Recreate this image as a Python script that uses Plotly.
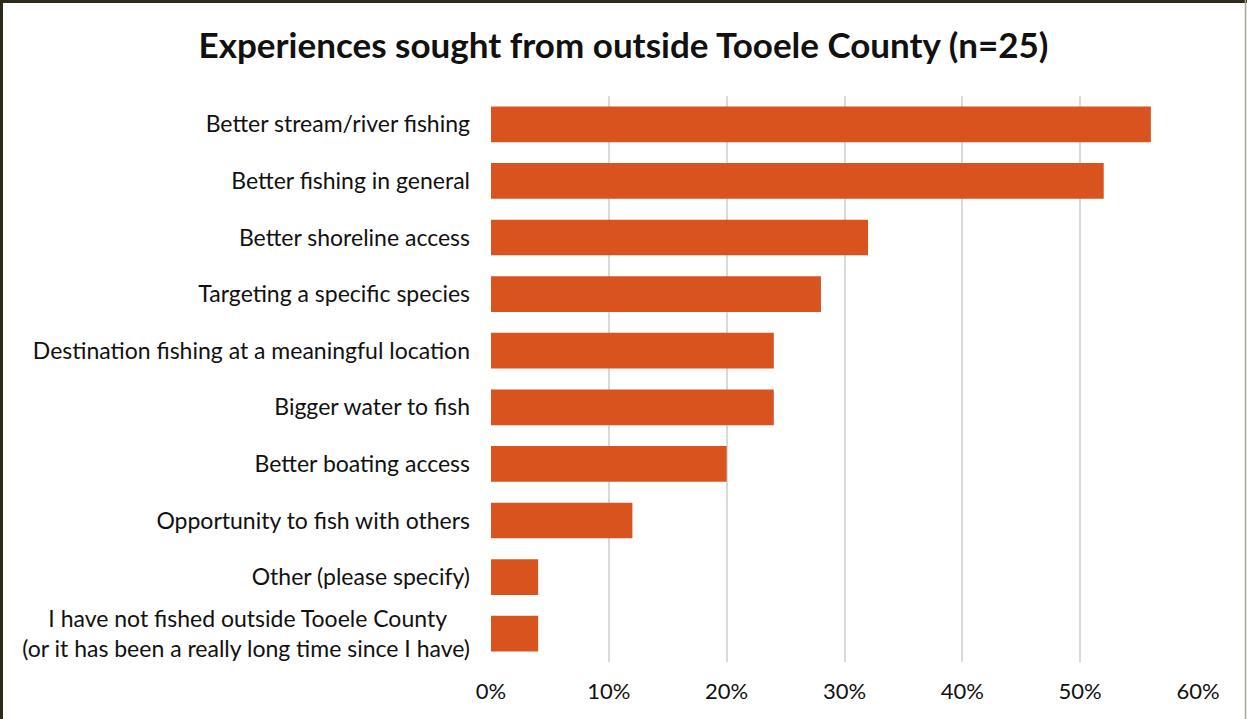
import plotly.graph_objects as go

categories = [
    "Better stream/river fishing",
    "Better fishing in general",
    "Better shoreline access",
    "Targeting a specific species",
    "Destination fishing at a meaningful location",
    "Bigger water to fish",
    "Better boating access",
    "Opportunity to fish with others",
    "Other (please specify)",
    "I have not fished outside Tooele County&nbsp;&nbsp;&nbsp;&nbsp;<br>(or it has been a really long time since I have)",
]
values = [0.56, 0.52, 0.32, 0.28, 0.24, 0.24, 0.20, 0.12, 0.04, 0.04]
x_ticks = [0, 0.1, 0.2, 0.3, 0.4, 0.5, 0.6]
x_tick_labels = ["0%", "10%", "20%", "30%", "40%", "50%", "60%"]
title_text = "Experiences sought from outside Tooele County (n=25)"

W, H = 1247, 719
L, R, T, B = 491, 49, 96, 57
FONT = "Lato"

fig = go.Figure(go.Bar(
    x=values,
    y=categories,
    orientation="h",
    marker=dict(color="#D9531E", line=dict(width=0)),
    hoverinfo="x+y",
))

pw = W - L - R
ph = H - T - B
def px2x(px):
    return (px - L) / pw
def py2y(py):
    return 1 - (py - T) / ph

shapes = [
    dict(type="line", xref="paper", yref="paper", x0=px2x(1.5), x1=px2x(1.5), y0=py2y(0), y1=py2y(H),
         line=dict(color="#2E2A1A", width=3)),
    dict(type="line", xref="paper", yref="paper", x0=px2x(0), x1=px2x(W), y0=py2y(1.5), y1=py2y(1.5),
         line=dict(color="#2E2A1A", width=3)),
    dict(type="line", xref="paper", yref="paper", x0=px2x(1245.5), x1=px2x(1245.5), y0=py2y(0), y1=py2y(H),
         line=dict(color="#A8A596", width=1.5)),
]

fig.update_layout(
    width=W, height=H,
    margin=dict(l=L, r=R, t=T, b=B, pad=0),
    paper_bgcolor="white",
    plot_bgcolor="white",
    bargap=0.37,
    showlegend=False,
    font=dict(family=FONT, color="#111111", size=23),
    title=dict(
        text="<b>" + title_text + "</b>",
        x=0.5, xref="container", xanchor="center",
        y=1 - 46 / H, yref="container", yanchor="middle",
        font=dict(family=FONT, size=35, color="#111111"),
    ),
    xaxis=dict(
        range=[0, 0.6],
        tickvals=x_ticks,
        ticktext=x_tick_labels,
        showgrid=True,
        gridcolor="#D9D9D9",
        gridwidth=2,
        zeroline=False,
        showline=False,
        ticks="",
        ticklabelstandoff=14,
        tickfont=dict(family=FONT, size=22, color="#111111"),
        fixedrange=True,
    ),
    yaxis=dict(
        autorange="reversed",
        showgrid=False,
        zeroline=False,
        showline=False,
        ticks="",
        ticklabelstandoff=20,
        tickfont=dict(family=FONT, size=23, color="#111111"),
        fixedrange=True,
    ),
    shapes=shapes,
)

fig.write_html(
    "out.html",
    config={"displayModeBar": False},
    post_script="document.body.style.margin='0';document.body.style.overflow='hidden';",
)
